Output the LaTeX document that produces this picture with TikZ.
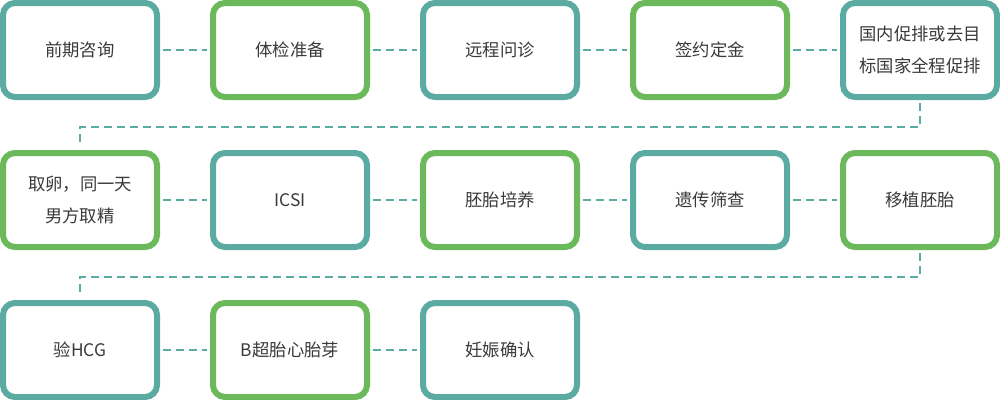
\documentclass[tikz,border=0pt]{standalone}
\usepackage{fontspec}
\setmainfont{Noto Sans CJK SC}
\definecolor{teal1}{HTML}{5BABA3}
\definecolor{green1}{HTML}{6BB95B}
\definecolor{txt}{HTML}{3A3A3A}
\begin{document}
\begin{tikzpicture}[x=0.75pt,y=-0.75pt,
  box/.style={draw, rounded corners=9pt, line width=4.5pt, fill=white,
    minimum width=154*0.75pt, minimum height=94*0.75pt, inner sep=0pt,
    align=center, text=txt, font=\fontsize{13}{24.5}\selectfont},
  tb/.style={box, draw=teal1},
  gb/.style={box, draw=green1},
  link/.style={draw=teal1, line width=1.5pt, dash pattern=on 6pt off 3.75pt, shorten >=2.5pt, shorten <=2.5pt}
]
\useasboundingbox (0,0) rectangle (1000,400);
\fill[white] (0,0) rectangle (1000,400);
% row 1
\node[tb] (a1) at (80,50) {前期咨询};
\node[gb] (a2) at (290,50) {体检准备};
\node[tb] (a3) at (500,50) {远程问诊};
\node[gb] (a4) at (710,50) {签约定金};
\node[tb] (a5) at (920,50) {国内促排或去目\\标国家全程促排};
% row 2
\node[gb] (b1) at (80,200) {取卵，同一天\\男方取精};
\node[tb] (b2) at (290,200) {ICSI};
\node[gb] (b3) at (500,200) {胚胎培养};
\node[tb] (b4) at (710,200) {遗传筛查};
\node[gb] (b5) at (920,200) {移植胚胎};
% row 3
\node[tb] (c1) at (80,350) {验HCG};
\node[gb] (c2) at (290,350) {B超胎心胎芽};
\node[tb] (c3) at (500,350) {妊娠确认};
% connectors
\draw[link] (a1.east) -- (a2.west);
\draw[link] (a2.east) -- (a3.west);
\draw[link] (a3.east) -- (a4.west);
\draw[link] (a4.east) -- (a5.west);
\draw[link] (a5.south) -- ++(0,27) -| (b1.north);
\draw[link] (b1.east) -- (b2.west);
\draw[link] (b2.east) -- (b3.west);
\draw[link] (b3.east) -- (b4.west);
\draw[link] (b4.east) -- (b5.west);
\draw[link] (b5.south) -- ++(0,27) -| (c1.north);
\draw[link] (c1.east) -- (c2.west);
\draw[link] (c2.east) -- (c3.west);
\end{tikzpicture}
\end{document}
